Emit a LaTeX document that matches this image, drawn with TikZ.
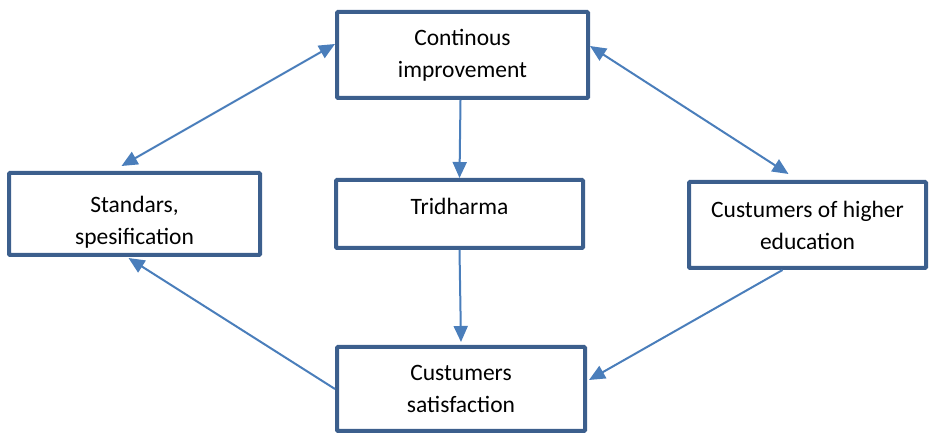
\documentclass[tikz,border=0pt]{standalone}
\usepackage{fontspec}
\setmainfont{Carlito}
\usetikzlibrary{arrows.meta}
\definecolor{boxblue}{RGB}{60,95,141}
\definecolor{lineblue}{RGB}{74,126,187}

\begin{document}
\begin{tikzpicture}[x=1pt,y=-1pt,
    >={Triangle[length=16pt,width=14pt]},
    box/.style={draw=boxblue, line width=4pt, rounded corners=1pt, align=center,
                font=\fontsize{23.5}{32}\selectfont},
    link/.style={draw=lineblue, line width=2pt}]
\useasboundingbox (0,0) rectangle (930,435);
        \node (cont) at (462.5,55) [box, minimum width=251pt, minimum height=86pt] {Continous\\improvement};
        \node (std) at (134.5,214) [box, minimum width=251pt, minimum height=82pt, text height=64pt] {Standars,\\spesification};
        \node (tri) at (459.5,214) [box, minimum width=247pt, minimum height=68pt, text depth=16pt] {Tridharma};
        \node (cust) at (807.5,225) [box, minimum width=237pt, minimum height=86pt] {Custumers of higher\\education};
        \node (sat) at (461,389) [box, minimum width=248pt, minimum height=84pt] {Custumers\\satisfaction};
        \draw[link, <->] ([yshift=11pt]cont.west) to ([xshift=-13pt,yshift=5pt]std.north);
        \draw[link, <->] ([yshift=9pt]cont.east) to ([xshift=-19pt,yshift=6pt]cust.north);
        \draw[link, ->] ([xshift=-2pt]cont.south) to (tri.north);
        \draw[link, ->] (tri.south) to ([yshift=3pt]sat.north);
        \draw[link, ->] ([xshift=-25pt]cust.south) to ([xshift=2pt,yshift=9pt]sat.east);
        \draw[link, ->] (sat.west) to ([xshift=-6pt,yshift=-1pt]std.south);
\end{tikzpicture}
\end{document}
